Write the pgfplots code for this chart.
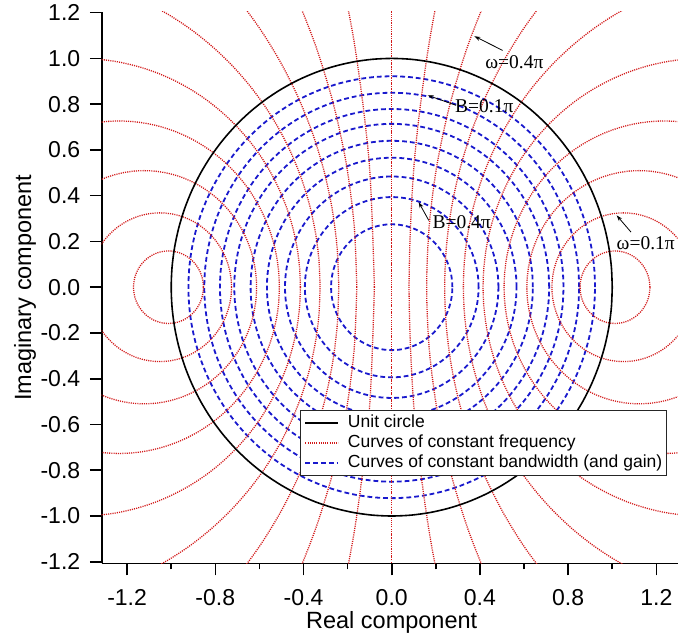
\documentclass[border=0pt]{standalone}
\usepackage{pgfplots}
\pgfplotsset{compat=1.18}
\usepackage{pgfplotstable}
\usetikzlibrary{arrows.meta}
\usepackage{fontspec}
\setmainfont{Liberation Sans}
\newfontfamily\serif{Liberation Serif}

\definecolor{cred}{RGB}{210,25,25}
\definecolor{cblue}{RGB}{25,25,205}

% unit circle, 5 degree steps (c = cos, s = sin)
\pgfplotstableread{
c s
1.0000 0.0000
0.9962 0.0872
0.9848 0.1736
0.9659 0.2588
0.9397 0.3420
0.9063 0.4226
0.8660 0.5000
0.8192 0.5736
0.7660 0.6428
0.7071 0.7071
0.6428 0.7660
0.5736 0.8192
0.5000 0.8660
0.4226 0.9063
0.3420 0.9397
0.2588 0.9659
0.1736 0.9848
0.0872 0.9962
0.0000 1.0000
-0.0872 0.9962
-0.1736 0.9848
-0.2588 0.9659
-0.3420 0.9397
-0.4226 0.9063
-0.5000 0.8660
-0.5736 0.8192
-0.6428 0.7660
-0.7071 0.7071
-0.7660 0.6428
-0.8192 0.5736
-0.8660 0.5000
-0.9063 0.4226
-0.9397 0.3420
-0.9659 0.2588
-0.9848 0.1736
-0.9962 0.0872
-1.0000 0.0000
-0.9962 -0.0872
-0.9848 -0.1736
-0.9659 -0.2588
-0.9397 -0.3420
-0.9063 -0.4226
-0.8660 -0.5000
-0.8192 -0.5736
-0.7660 -0.6428
-0.7071 -0.7071
-0.6428 -0.7660
-0.5736 -0.8192
-0.5000 -0.8660
-0.4226 -0.9063
-0.3420 -0.9397
-0.2588 -0.9659
-0.1736 -0.9848
-0.0872 -0.9962
0.0000 -1.0000
0.0872 -0.9962
0.1736 -0.9848
0.2588 -0.9659
0.3420 -0.9397
0.4226 -0.9063
0.5000 -0.8660
0.5736 -0.8192
0.6428 -0.7660
0.7071 -0.7071
0.7660 -0.6428
0.8192 -0.5736
0.8660 -0.5000
0.9063 -0.4226
0.9397 -0.3420
0.9659 -0.2588
0.9848 -0.1736
0.9962 -0.0872
1.0000 0.0000
}\unitcircle

\pgfplotsset{
  redc/.style={color=cred, line width=1.3pt, dash pattern=on 1.1pt off 1.1pt, smooth},
  bluec/.style={color=cblue, line width=1.8pt, dash pattern=on 4.8pt off 3pt, smooth},
}
% circle: center (#1,0), radius #2
\newcommand{\rc}[2]{\addplot[redc, forget plot] table[x expr={#1+#2*\thisrow{c}}, y expr={#2*\thisrow{s}}] {\unitcircle};}
\newcommand{\bc}[1]{\addplot[bluec, forget plot] table[x expr={#1*\thisrow{c}}, y expr={#1*\thisrow{s}}] {\unitcircle};}

\begin{document}
\begin{tikzpicture}
\begin{axis}[
  scale only axis,
  width=575.9pt, height=551.3pt,
  xmin=-1.315, xmax=1.297,
  ymin=-1.207, ymax=1.203,
  axis x line*=bottom, axis y line*=left,
  axis line style={line width=1.6pt, -},
  tick align=outside,
  major tick length=12pt, minor tick length=6pt,
  every tick/.style={line width=1.6pt, black},
  xtick={-1.2,-0.8,-0.4,0,0.4,0.8,1.2},
  xticklabels={-1.2,-0.8,-0.4,0.0,0.4,0.8,1.2},
  minor xtick={-1.0,-0.6,-0.2,0.2,0.6,1.0},
  ytick={-1.2,-1.0,-0.8,-0.6,-0.4,-0.2,0,0.2,0.4,0.6,0.8,1.0,1.2},
  yticklabels={-1.2,-1.0,-0.8,-0.6,-0.4,-0.2,0.0,0.2,0.4,0.6,0.8,1.0,1.2},
  tick label style={font=\fontsize{23}{27}\selectfont},
  xticklabel shift=11pt,
  yticklabel shift=6pt,
  xlabel={Real component},
  ylabel={Imaginary component},
  xlabel style={font=\fontsize{23.5}{28}\selectfont, at={(axis description cs:0.5034,-0.107)}, anchor=center},
  ylabel style={font=\fontsize{23.5}{28}\selectfont, at={(axis description cs:-0.133,0.5)}, anchor=center},
  legend style={at={(axis cs:-0.416,-0.537)}, anchor=north west,
    font=\fontsize{17.5}{20}\selectfont, draw=black!85, line width=1pt,
    fill=white, inner sep=4pt, row sep=3pt, column sep=8.7pt,
    nodes={inner sep=0pt, text height=13pt, text depth=4pt}},
  legend cell align=left,
  legend image code/.code={\draw[#1] (0pt,0pt) -- (33pt,0pt);},
]
\addlegendimage{black, line width=1.5pt, solid}
\addlegendentry{Unit circle}
\addlegendimage{color=cred, line width=1.3pt, dash pattern=on 1.1pt off 1.1pt}
\addlegendentry{Curves of constant frequency}
\addlegendimage{color=cblue, line width=1.8pt, dash pattern=on 4.8pt off 3pt}
\addlegendentry{Curves of constant bandwidth (and gain)}

% constant bandwidth circles (radii)
\bc{0.922}
\bc{0.850}
\bc{0.779}
\bc{0.714}
\bc{0.640}
\bc{0.566}
\bc{0.484}
\bc{0.394}
\bc{0.275}

% constant frequency circles: center sec(w), radius tan(w), w = 0.05pi ... 0.45pi
\rc{1.01247}{0.15838}
\rc{1.05146}{0.32492}
\rc{1.12233}{0.50953}
\rc{1.23607}{0.72654}
\rc{1.41421}{1.00000}
\rc{1.70130}{1.37638}
\rc{2.20269}{1.96261}
\rc{3.23607}{3.07768}
\rc{6.39245}{6.31375}
\addplot[redc, forget plot] coordinates {(0,-1.3) (0,1.3)};
\rc{-1.01247}{0.15838}
\rc{-1.05146}{0.32492}
\rc{-1.12233}{0.50953}
\rc{-1.23607}{0.72654}
\rc{-1.41421}{1.00000}
\rc{-1.70130}{1.37638}
\rc{-2.20269}{1.96261}
\rc{-3.23607}{3.07768}
\rc{-6.39245}{6.31375}

% unit circle
\addplot[black, line width=1.6pt, smooth, forget plot] table[x=c, y=s] {\unitcircle};

% annotations
\draw[line width=0.8pt, -{Stealth[length=6pt, width=4pt]}] (axis cs:0.503,1.035) -- (axis cs:0.375,1.097);
\node[font=\serif\fontsize{19.5}{22}\selectfont] at (axis cs:0.556,0.983) {ω=0.4π};
\draw[line width=0.8pt, -{Stealth[length=6pt, width=4pt]}] (axis cs:0.292,0.795) -- (axis cs:0.163,0.839);
\node[font=\serif\fontsize{19.5}{22}\selectfont] at (axis cs:0.420,0.790) {B=0.1π};
\draw[line width=0.8pt, -{Stealth[length=6pt, width=4pt]}] (axis cs:0.168,0.292) -- (axis cs:0.122,0.372);
\node[font=\serif\fontsize{19.5}{22}\selectfont] at (axis cs:0.317,0.285) {B=0.4π};
\draw[line width=0.8pt, -{Stealth[length=6pt, width=4pt]}] (axis cs:1.085,0.241) -- (axis cs:1.020,0.314);
\node[font=\serif\fontsize{19.5}{22}\selectfont] at (axis cs:1.152,0.194) {ω=0.1π};
\end{axis}
\pgfresetboundingbox
\path[use as bounding box] ([xshift=-101.7pt,yshift=-73pt]current axis.south west) rectangle ([xshift=14.3pt,yshift=12pt]current axis.north east);
\end{tikzpicture}
\end{document}
